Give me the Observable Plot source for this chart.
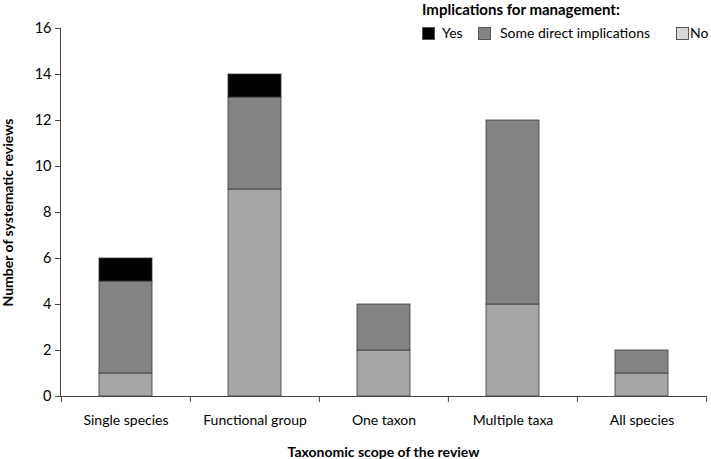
<!DOCTYPE html>
<html><head><meta charset="utf-8">
<script src="https://cdn.jsdelivr.net/npm/d3@7"></script>
<script src="https://cdn.jsdelivr.net/npm/@observablehq/plot@0.6"></script>
<style>
body{margin:0;background:#fff;font-family:Lato,"Open Sans",sans-serif;overflow:hidden;}
#wrap{position:relative;width:711px;height:459px;}
#legend{position:absolute;left:0;top:0;width:711px;height:50px;color:#000;}
#legend .t{font-weight:bold;font-size:15px;position:absolute;left:422px;top:0px;white-space:nowrap;}
#legend .sw{position:absolute;top:27px;width:11px;height:11px;border:1px solid #555;box-sizing:content-box;}
#legend .lb{position:absolute;top:24px;font-size:14px;white-space:nowrap;}
</style></head>
<body><div id="wrap"><div id="chart"></div><div id="legend"></div></div>
<script>
const categories = ["Single species","Functional group","One taxon","Multiple taxa","All species"];
const seriesNames = ["No","Some direct implications","Yes"];
const noValues = [1, 9, 2, 4, 1];
const someValues = [4, 4, 2, 8, 1];
const yesValues = [1, 1, 0, 0, 0];
const yTicks = [0,2,4,6,8,10,12,14,16];
const legendOrder = ["Yes","Some direct implications","No"];
const barColors = {"No":"#a6a6a6","Some direct implications":"#838383","Yes":"#000000"};
const legendColors = {"Yes":"#000000","Some direct implications":"#838383","No":"#d9d9d9"};

const data = [];
categories.forEach((c,i)=>{
  data.push({cat:c, s:"No", v:noValues[i]});
  data.push({cat:c, s:"Some direct implications", v:someValues[i]});
  data.push({cat:c, s:"Yes", v:yesValues[i]});
});

const W=711,H=459,mL=60,mR=5;
const bw=(W-mL-mR)/categories.length;
const font='Lato, "Open Sans", sans-serif';

const plot = Plot.plot({
  width:W,height:H,
  marginLeft:mL,marginRight:mR,marginTop:28,marginBottom:63,
  style:{fontFamily:font,fontSize:"13px",color:"#000",background:"#fff"},
  x:{domain:categories,padding:0,label:null},
  y:{domain:[0,16],ticks:yTicks,label:null},
  color:{domain:seriesNames,range:seriesNames.map(s=>barColors[s])},
  marks:[
    Plot.barY(data.filter(d=>d.v>0),{x:"cat",y:"v",fill:"s",order:seriesNames,stroke:"#3a3a3a",strokeWidth:0.8,insetLeft:38,insetRight:38}),
    Plot.frame({anchor:"left",stroke:"#444"}),
    Plot.ruleY([0],{stroke:"#444"}),
    Plot.axisY({ticks:yTicks,tickSize:5,tickPadding:4,stroke:"#444",fontSize:14.5}),
    Plot.axisX({tickSize:0,tickPadding:19,fontSize:14}),
    Plot.axisX({tickSize:6,tickFormat:()=>"",dx:-bw/2,stroke:"#444"}),
    Plot.axisX({ticks:[categories[categories.length-1]],tickSize:6,tickFormat:()=>"",dx:bw/2,stroke:"#444"}),
    Plot.text(["Taxonomic scope of the review"],{frameAnchor:"bottom",dy:60,fontWeight:"bold",fontSize:14}),
    Plot.text(["Number of systematic reviews"],{frameAnchor:"left",textAnchor:"middle",dx:-52,rotate:-90,fontWeight:"bold",fontSize:14})
  ]
});
document.getElementById("chart").appendChild(plot);

const lg=document.getElementById("legend");
const swX={"Yes":422,"Some direct implications":478,"No":676};
const lbX={"Yes":442,"Some direct implications":500,"No":690};
let html='<div class="t">Implications for management:</div>';
legendOrder.forEach(s=>{
  html+='<span class="sw" style="left:'+swX[s]+'px;background:'+legendColors[s]+'"></span>';
  html+='<span class="lb" style="left:'+lbX[s]+'px">'+s+'</span>';
});
lg.innerHTML=html;
</script></body></html>
